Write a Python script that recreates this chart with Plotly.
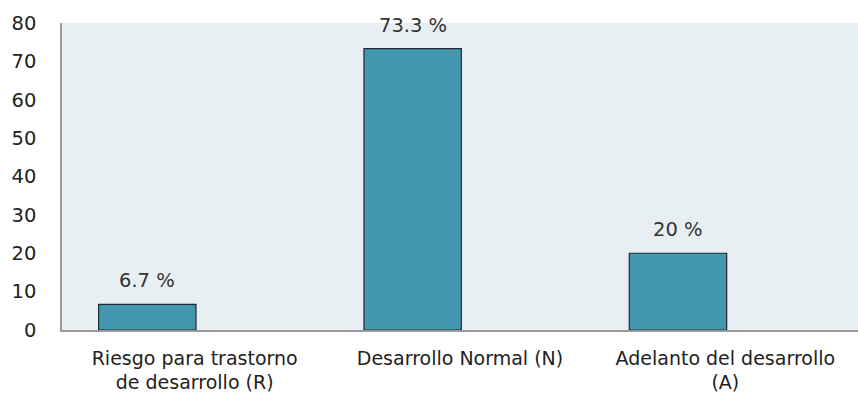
import plotly.graph_objects as go

# Developmental screening results (percent of children)
categories = ["Riesgo para trastorno<br>de desarrollo (R)",
              "Desarrollo Normal (N)",
              "Adelanto del desarrollo<br>(A)"]
values = [6.7, 73.3, 20]
value_labels = ["6.7 %", "73.3 %", "20 %"]
y_ticks = [0, 10, 20, 30, 40, 50, 60, 70, 80]

positions = list(range(len(categories)))
bar_width = 0.367
bar_offset = -0.362

FONT = "DejaVu Sans"

fig = go.Figure()
fig.add_trace(go.Bar(
    x=positions,
    y=values,
    width=bar_width,
    offset=bar_offset,
    marker=dict(color="#4397AF", line=dict(color="#1e2a2e", width=1.2)),
    hoverinfo="skip",
))

for pos, val, lab in zip(positions, values, value_labels):
    fig.add_annotation(
        x=pos + bar_offset + bar_width / 2, y=val,
        text=lab, showarrow=False,
        yanchor="bottom", yshift=10,
        font=dict(family=FONT, size=19.5, color="#333333"),
    )

fig.update_layout(
    width=858, height=398,
    margin=dict(l=62, r=0, t=23, b=68),
    paper_bgcolor="white",
    plot_bgcolor="#E8EFF3",
    showlegend=False,
    font=dict(family=FONT, size=18, color="#222222"),
)
fig.update_xaxes(
    range=[-0.5, 2.5],
    tickvals=positions, ticktext=categories,
    showgrid=False, zeroline=False,
    showline=True, linecolor="#999999", linewidth=1.5,
    ticks="", ticklabelstandoff=10, automargin=False,
    tickfont=dict(family=FONT, size=19, color="#222222"),
)
fig.update_yaxes(
    range=[0, 80],
    tickvals=y_ticks,
    showgrid=False, zeroline=False,
    showline=True, linecolor="#999999", linewidth=1.5,
    ticks="", ticklabelstandoff=20, automargin=False,
    tickfont=dict(family=FONT, size=19.5, color="#222222"),
)

fig.write_html("out.html")
